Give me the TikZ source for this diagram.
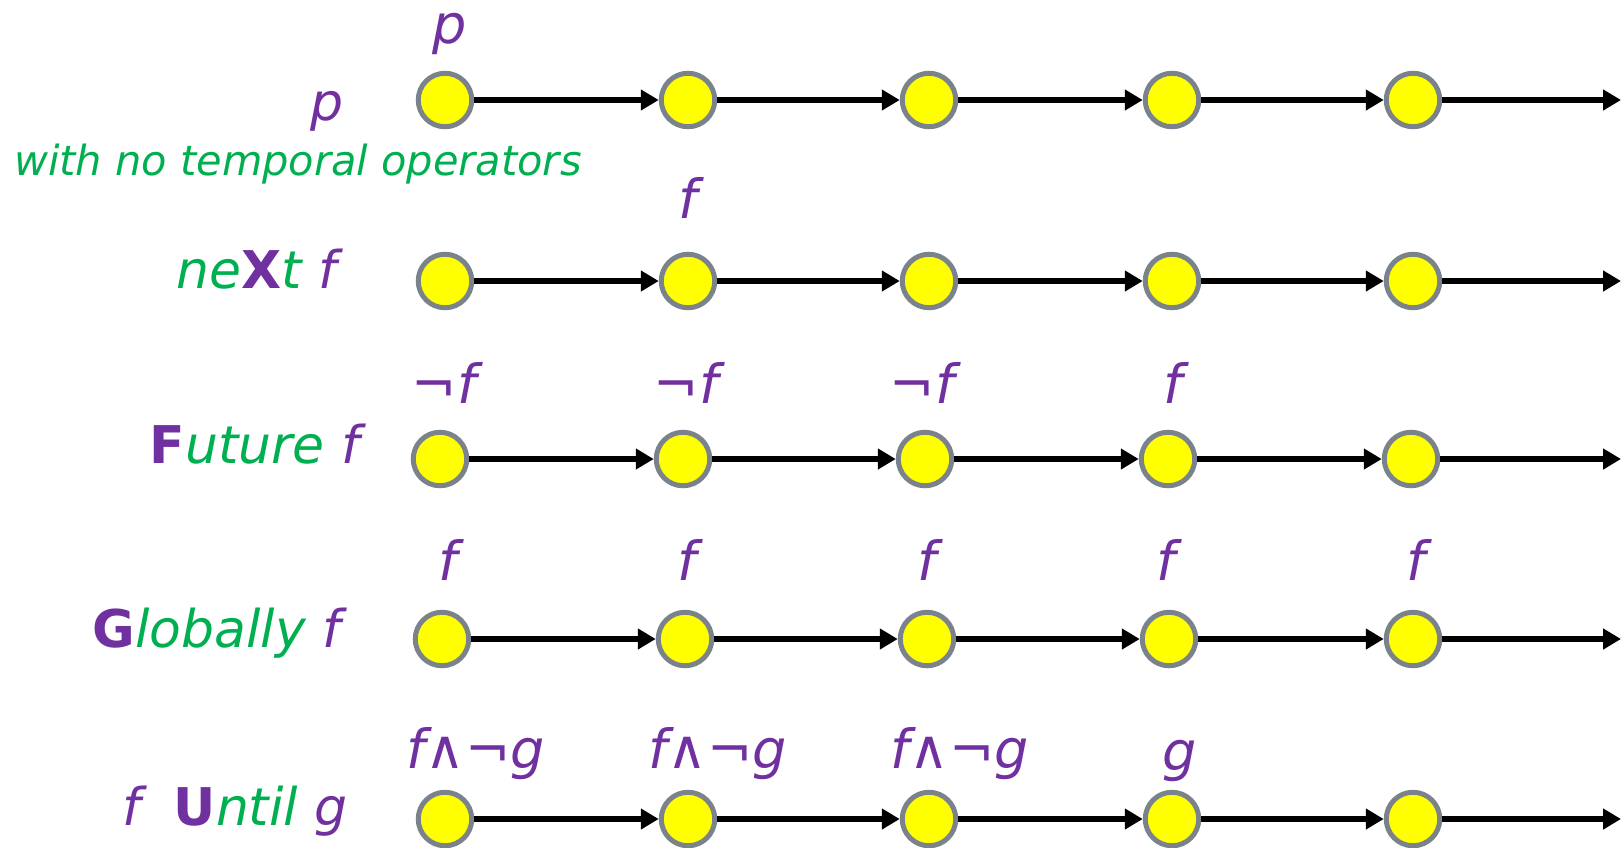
\documentclass[tikz,border=0pt]{standalone}
\usepackage{fontspec}
\setmainfont{DejaVu Sans}
\usetikzlibrary{arrows.meta}
\definecolor{lpurple}{HTML}{7030A0}
\definecolor{lgreen}{HTML}{00B050}
\definecolor{rim}{HTML}{7A838C}
\definecolor{dotfill}{HTML}{FFFF00}
\newcommand{\pu}[1]{\textcolor{lpurple}{#1}}
\newcommand{\gr}[1]{\textcolor{lgreen}{#1}}
\newcommand{\opb}[1]{\textcolor{lpurple}{\upshape\bfseries #1}}
\tikzset{
  state/.style={circle, fill=dotfill, draw=rim, line width=5pt, minimum size=53.5pt, inner sep=0pt},
  trans/.style={line width=6pt, -{Triangle[length=18pt,width=20pt]}},
  lbl/.style={font=\fontsize{54}{60}\selectfont\itshape, text=lpurple, inner sep=0pt, anchor=base},
  big/.style={font=\fontsize{52}{60}\selectfont\itshape, inner sep=0pt, anchor=base east},
  small/.style={font=\fontsize{41.5}{50}\selectfont\itshape, text=lgreen, inner sep=0pt, anchor=base west}
}
\begin{document}
\begin{tikzpicture}[x=1pt,y=-1pt]
\useasboundingbox (0,0) rectangle (1621,847);
\foreach \r/\y/\xa/\xb/\xc/\xd/\xe in {1/100/445/688/929/1172/1413, 2/281/445/688/929/1172/1413, 3/459/440/683/925/1168/1411, 4/639/442/685/927/1169/1413, 5/819/445/688/929/1172/1413}{
  \node[state] (n\r-1) at (\xa,\y) {};
  \node[state] (n\r-2) at (\xb,\y) {};
  \node[state] (n\r-3) at (\xc,\y) {};
  \node[state] (n\r-4) at (\xd,\y) {};
  \node[state] (n\r-5) at (\xe,\y) {};
  \coordinate (e\r) at (1621,\y);
  \draw[trans] (n\r-1) -- (n\r-2);
  \draw[trans] (n\r-2) -- (n\r-3);
  \draw[trans] (n\r-3) -- (n\r-4);
  \draw[trans] (n\r-4) -- (n\r-5);
  \draw[trans] (n\r-5) -- (e\r);
}
% row 1
\node[lbl] (t1) at (450,43) {p};
\node[big, anchor=base, text=lpurple] (l1) at (327,120) {p};
\node[small] (l1b) at (14,175) {with no temporal operators};
% row 2
\node[big] (l2) at (337,288) {\gr{ne}\opb{X}\gr{t} \pu{f}};
\node[lbl] (t2) at (688,218) {f};
% row 3
\node[big] (l3) at (360,463) {\opb{F}\gr{uture} \pu{f}};
\node[lbl] (t3a) at (444,403) {{\upshape ¬}f};
\node[lbl] (t3b) at (686,403) {{\upshape ¬}f};
\node[lbl] (t3c) at (922,403) {{\upshape ¬}f};
\node[lbl] (t3d) at (1173,403) {f};
% row 4
\node[big] (l4) at (341,647) {\opb{G}\gr{lobally} \pu{f}};
\node[lbl] (t4a) at (448,580) {f};
\node[lbl] (t4b) at (687,580) {f};
\node[lbl] (t4c) at (927,580) {f};
\node[lbl] (t4d) at (1166,580) {f};
\node[lbl] (t4e) at (1416,580) {f};
% row 5
\node[big] (l5) at (348,825) {\pu{f}\ \ \opb{U}\gr{ntil} \pu{g}};
\node[lbl] (t5a) at (476,768) {f{\upshape ∧¬}g};
\node[lbl] (t5b) at (718,768) {f{\upshape ∧¬}g};
\node[lbl] (t5c) at (960,768) {f{\upshape ∧¬}g};
\node[lbl] (t5d) at (1180,770) {g};
\end{tikzpicture}
\end{document}
